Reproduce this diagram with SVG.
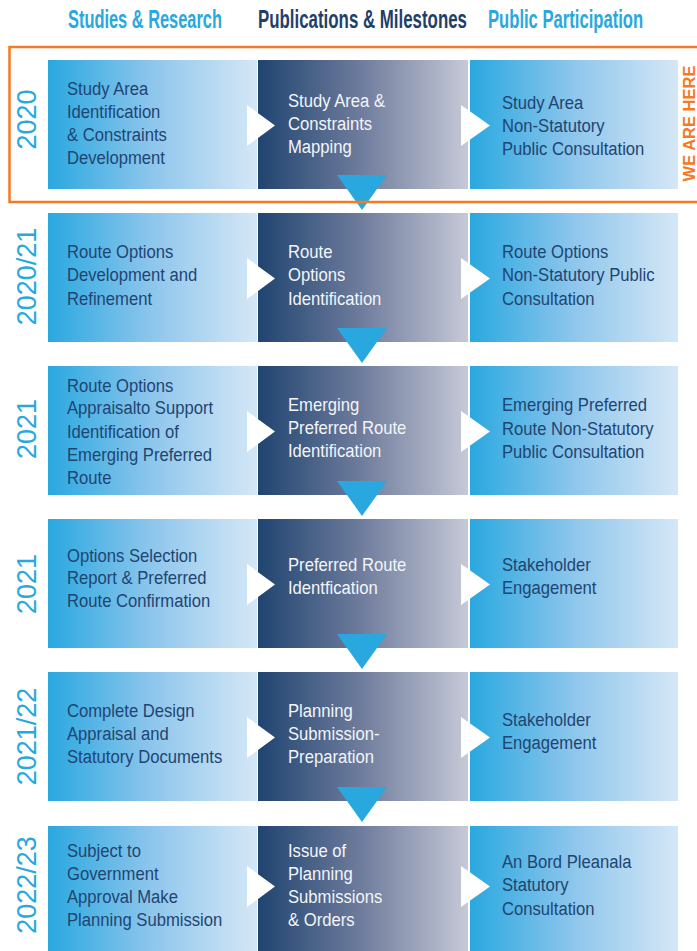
<svg xmlns="http://www.w3.org/2000/svg" width="697" height="951" viewBox="0 0 697 951">
<defs>
<linearGradient id="gBlue" x1="0" y1="0" x2="1" y2="0">
<stop offset="0" stop-color="#29a8e0"/>
<stop offset="0.5" stop-color="#8ec6ec"/>
<stop offset="1" stop-color="#d5e7f6"/>
</linearGradient>
<linearGradient id="gNavy" x1="0" y1="0" x2="1" y2="0">
<stop offset="0" stop-color="#1f4470"/>
<stop offset="0.5" stop-color="#707d9d"/>
<stop offset="1" stop-color="#c6c9d7"/>
</linearGradient>
<style>
.hd{font-family:"Liberation Sans",Arial,sans-serif;font-weight:bold;font-size:25px}
.t{font-family:"Liberation Sans",Arial,sans-serif;font-size:18.5px}
.dk{fill:#1f4572}
.wt{fill:#f3f5f9}
.yr{font-family:"Liberation Sans",Arial,sans-serif;font-size:27px;fill:#29a8e0}
.bl{fill:url(#gBlue)}
.nv{fill:url(#gNavy)}
.pt{fill:#ffffff}
.dn{fill:#29a8e0}
</style>
</defs>
<rect width="697" height="951" fill="#ffffff"/>
<g id="headers">
<text class="hd" transform="matrix(0.656 0 0 1 68 27.5)" fill="#29a8e0">Studies &amp; Research</text>
<text class="hd" transform="matrix(0.675 0 0 1 258 27.5)" fill="#1f3f6b">Publications &amp; Milestones</text>
<text class="hd" transform="matrix(0.665 0 0 1 488 27.5)" fill="#29a8e0">Public Participation</text>
</g>
<g id="years">
<text class="yr" transform="translate(36,119.5) rotate(-90)" text-anchor="middle">2020</text>
<text class="yr" transform="translate(36,276.5) rotate(-90)" text-anchor="middle">2020/21</text>
<text class="yr" transform="translate(36,429) rotate(-90)" text-anchor="middle">2021</text>
<text class="yr" transform="translate(36,584) rotate(-90)" text-anchor="middle">2021</text>
<text class="yr" transform="translate(36,736.5) rotate(-90)" text-anchor="middle">2021/22</text>
<text class="yr" transform="translate(36,885) rotate(-90)" text-anchor="middle">2022/23</text>
</g>
<!-- Row 1 -->
<g id="r1-study">
<rect class="bl" x="48" y="60" width="209" height="129"/>
<text class="t dk" transform="matrix(0.9 0 0 1 67 0)"><tspan x="0" y="95">Study Area</tspan><tspan x="0" y="118">Identification</tspan><tspan x="0" y="141">&amp; Constraints</tspan><tspan x="0" y="164">Development</tspan></text>
</g>
<g id="r1-pub">
<rect class="nv" x="258" y="60" width="210" height="129"/>
<text class="t wt" transform="matrix(0.9 0 0 1 288 0)"><tspan x="0" y="106.7">Study Area &amp;</tspan><tspan x="0" y="130">Constraints</tspan><tspan x="0" y="153">Mapping</tspan></text>
</g>
<g id="r1-part">
<rect class="bl" x="470" y="60" width="208" height="129"/>
<text class="t dk" transform="matrix(0.9 0 0 1 502 0)"><tspan x="0" y="109">Study Area</tspan><tspan x="0" y="132.5">Non-Statutory</tspan><tspan x="0" y="155.5">Public Consultation</tspan></text>
</g>
<!-- Row 2 -->
<g id="r2-study">
<rect class="bl" x="48" y="213" width="209" height="129"/>
<text class="t dk" transform="matrix(0.9 0 0 1 67 0)"><tspan x="0" y="258.5">Route Options</tspan><tspan x="0" y="281.5">Development and</tspan><tspan x="0" y="305">Refinement</tspan></text>
</g>
<g id="r2-pub">
<rect class="nv" x="258" y="213" width="210" height="129"/>
<text class="t wt" transform="matrix(0.9 0 0 1 288 0)"><tspan x="0" y="258.5">Route</tspan><tspan x="0" y="281.5">Options</tspan><tspan x="0" y="305">Identification</tspan></text>
</g>
<g id="r2-part">
<rect class="bl" x="470" y="213" width="208" height="129"/>
<text class="t dk" transform="matrix(0.9 0 0 1 502 0)"><tspan x="0" y="258.5">Route Options</tspan><tspan x="0" y="281.5">Non-Statutory Public</tspan><tspan x="0" y="305">Consultation</tspan></text>
</g>
<!-- Row 3 -->
<g id="r3-study">
<rect class="bl" x="48" y="366" width="209" height="129"/>
<text class="t dk" transform="matrix(0.9 0 0 1 67 0)"><tspan x="0" y="391.7">Route Options</tspan><tspan x="0" y="414.5">Appraisalto Support</tspan><tspan x="0" y="437.7">Identification of</tspan><tspan x="0" y="461">Emerging Preferred</tspan><tspan x="0" y="484">Route</tspan></text>
</g>
<g id="r3-pub">
<rect class="nv" x="258" y="366" width="210" height="129"/>
<text class="t wt" transform="matrix(0.9 0 0 1 288 0)"><tspan x="0" y="411">Emerging</tspan><tspan x="0" y="434">Preferred Route</tspan><tspan x="0" y="457">Identification</tspan></text>
</g>
<g id="r3-part">
<rect class="bl" x="470" y="366" width="208" height="129"/>
<text class="t dk" transform="matrix(0.9 0 0 1 502 0)"><tspan x="0" y="411.5">Emerging Preferred</tspan><tspan x="0" y="435">Route Non-Statutory</tspan><tspan x="0" y="458">Public Consultation</tspan></text>
</g>
<!-- Row 4 -->
<g id="r4-study">
<rect class="bl" x="48" y="519" width="209" height="129"/>
<text class="t dk" transform="matrix(0.9 0 0 1 67 0)"><tspan x="0" y="561.7">Options Selection</tspan><tspan x="0" y="584.5">Report &amp; Preferred</tspan><tspan x="0" y="607.5">Route Confirmation</tspan></text>
</g>
<g id="r4-pub">
<rect class="nv" x="258" y="519" width="210" height="129"/>
<text class="t wt" transform="matrix(0.9 0 0 1 288 0)"><tspan x="0" y="571.5">Preferred Route</tspan><tspan x="0" y="594.5">Identfication</tspan></text>
</g>
<g id="r4-part">
<rect class="bl" x="470" y="519" width="208" height="129"/>
<text class="t dk" transform="matrix(0.9 0 0 1 502 0)"><tspan x="0" y="571.5">Stakeholder</tspan><tspan x="0" y="594.5">Engagement</tspan></text>
</g>
<!-- Row 5 -->
<g id="r5-study">
<rect class="bl" x="48" y="672" width="209" height="129"/>
<text class="t dk" transform="matrix(0.9 0 0 1 67 0)"><tspan x="0" y="717">Complete Design</tspan><tspan x="0" y="740">Appraisal and</tspan><tspan x="0" y="763">Statutory Documents</tspan></text>
</g>
<g id="r5-pub">
<rect class="nv" x="258" y="672" width="210" height="129"/>
<text class="t wt" transform="matrix(0.9 0 0 1 288 0)"><tspan x="0" y="717">Planning</tspan><tspan x="0" y="740">Submission-</tspan><tspan x="0" y="763">Preparation</tspan></text>
</g>
<g id="r5-part">
<rect class="bl" x="470" y="672" width="208" height="129"/>
<text class="t dk" transform="matrix(0.9 0 0 1 502 0)"><tspan x="0" y="726">Stakeholder</tspan><tspan x="0" y="749">Engagement</tspan></text>
</g>
<!-- Row 6 -->
<g id="r6-study">
<rect class="bl" x="48" y="826" width="209" height="125"/>
<text class="t dk" transform="matrix(0.9 0 0 1 67 0)"><tspan x="0" y="857">Subject to</tspan><tspan x="0" y="880">Government</tspan><tspan x="0" y="903">Approval Make</tspan><tspan x="0" y="926.5">Planning Submission</tspan></text>
</g>
<g id="r6-pub">
<rect class="nv" x="258" y="826" width="210" height="125"/>
<text class="t wt" transform="matrix(0.9 0 0 1 288 0)"><tspan x="0" y="857">Issue of</tspan><tspan x="0" y="880">Planning</tspan><tspan x="0" y="903">Submissions</tspan><tspan x="0" y="926.5">&amp; Orders</tspan></text>
</g>
<g id="r6-part">
<rect class="bl" x="470" y="826" width="208" height="125"/>
<text class="t dk" transform="matrix(0.9 0 0 1 502 0)"><tspan x="0" y="868">An Bord Pleanala</tspan><tspan x="0" y="891.5">Statutory</tspan><tspan x="0" y="915">Consultation</tspan></text>
</g>
<g id="connectors">
<polygon class="pt" points="247,105 275,125.5 247,146"/>
<polygon class="pt" points="461,105 490,125.5 461,146"/>
<polygon class="pt" points="247,258 275,278.5 247,299"/>
<polygon class="pt" points="461,258 490,278.5 461,299"/>
<polygon class="pt" points="247,411 275,431.5 247,452"/>
<polygon class="pt" points="461,411 490,431.5 461,452"/>
<polygon class="pt" points="247,564 275,584.5 247,605"/>
<polygon class="pt" points="461,564 490,584.5 461,605"/>
<polygon class="pt" points="247,717 275,737.5 247,758"/>
<polygon class="pt" points="461,717 490,737.5 461,758"/>
<polygon class="pt" points="247,866 275,886.5 247,907"/>
<polygon class="pt" points="461,866 490,886.5 461,907"/>
<polygon class="dn" points="337,175 387,175 362,210"/>
<polygon class="dn" points="337,328 387,328 362,363"/>
<polygon class="dn" points="337,481 387,481 362,516"/>
<polygon class="dn" points="337,634 387,634 362,669"/>
<polygon class="dn" points="337,787 387,787 362,822"/>
</g>
<g id="we-are-here">
<rect x="9.5" y="47" width="700" height="155" fill="none" stroke="#f47a25" stroke-width="2.5"/>
<text transform="translate(695,123.5) rotate(-90)" text-anchor="middle" font-family="Liberation Sans, Arial, sans-serif" font-weight="bold" font-size="16.5" fill="#f47a25">WE ARE HERE</text>
</g>
</svg>
